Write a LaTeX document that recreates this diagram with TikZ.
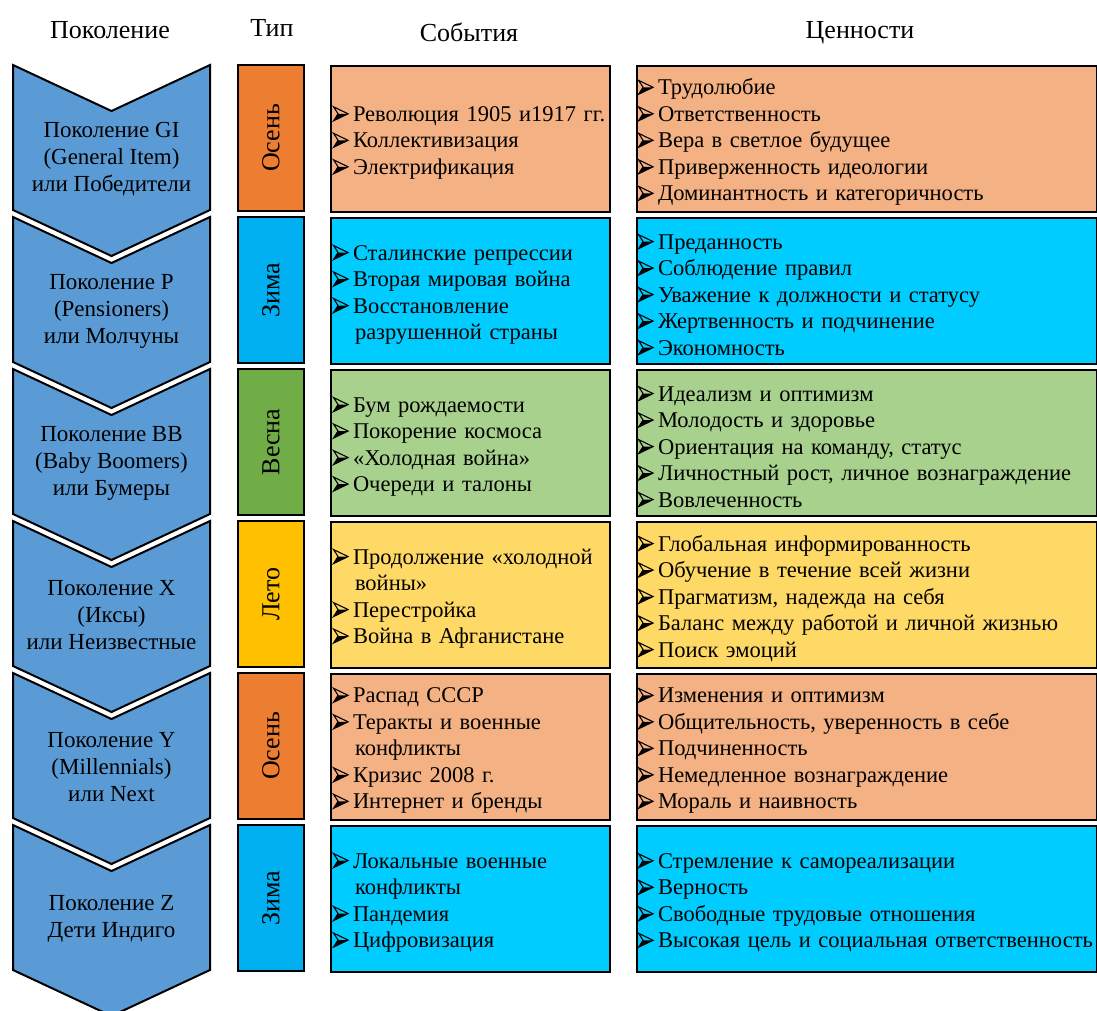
\documentclass[tikz,border=0pt]{standalone}
\usepackage{fontspec}
\setmainfont{Liberation Serif}
\definecolor{chevblue}{RGB}{91,155,213}
\definecolor{autumnT}{RGB}{237,125,49}
\definecolor{autumnL}{RGB}{244,177,131}
\definecolor{winterT}{RGB}{0,176,240}
\definecolor{winterL}{RGB}{0,204,255}
\definecolor{springT}{RGB}{112,173,71}
\definecolor{springL}{RGB}{169,209,142}
\definecolor{summerT}{RGB}{255,192,0}
\definecolor{summerL}{RGB}{255,217,102}
\newsavebox\bulbox
\newcommand\bul{\makebox[20pt][l]{\usebox\bulbox}}
\newcommand\ind{\hspace*{22pt}}
\newcommand\topstrut{\rule{0pt}{22.5pt}}
\tikzset{
  txt/.style={font=\fontsize{22.5}{26.5}\selectfont},
  chev/.style={fill=chevblue, draw=black, line width=2pt, line join=miter},
  chevtext/.style={font=\fontsize{23}{27}\selectfont, align=center, inner sep=0pt},
  typebox/.style={draw=black, line width=2pt, font=\fontsize{26}{30}\selectfont, minimum width=146pt, minimum height=66pt, rotate=90, inner sep=0pt},
  evbox/.style={draw=black, line width=2pt, txt, anchor=north west, minimum height=146pt, text width=275pt, inner xsep=2pt, inner ysep=0pt, align=left},
  valbox/.style={draw=black, line width=2pt, txt, anchor=north west, minimum height=146pt, text width=458pt, inner xsep=1pt, inner ysep=0pt, align=left},
  head/.style={font=\fontsize{26}{30}\selectfont, inner sep=0pt}
}
% #1 index, #2 ytop, #3 chevron text, #4 type, #5 type colour, #6 light colour, #7 events, #8 values
\newcommand\genrow[8]{%
  \begin{scope}[shift={(0,#2)}]
    \draw[chev] (13,0) -- (111.5,46) -- (210,0) -- (210,145) -- (111.5,191) -- (13,145) -- cycle;
    \node[chevtext] (gen#1) at (111.5,94) {#3};
    \node[typebox, fill=#5] (type#1) at (271,73) {#4};
    \node[evbox, fill=#6] (ev#1) at (330,0) {\topstrut#7};
    \node[valbox, fill=#6] (val#1) at (636,0) {\topstrut#8};
  \end{scope}}
\begin{document}
\sbox\bulbox{\begin{pgfpicture}%
  \pgfsetmiterjoin
  \pgfpathmoveto{\pgfpoint{0.5pt}{0.5pt}}\pgfpathlineto{\pgfpoint{15pt}{7.5pt}}\pgfpathlineto{\pgfpoint{5pt}{7.5pt}}\pgfpathclose\pgfusepath{fill}%
  \pgfsetlinewidth{1.1pt}%
  \pgfpathmoveto{\pgfpoint{0.5pt}{14.5pt}}\pgfpathlineto{\pgfpoint{15pt}{7.5pt}}\pgfpathlineto{\pgfpoint{0.5pt}{0.5pt}}\pgfpathlineto{\pgfpoint{5pt}{7.5pt}}\pgfpathclose\pgfusepath{stroke}%
\end{pgfpicture}}
\begin{tikzpicture}[x=1pt,y=-1pt]
\useasboundingbox (0,0) rectangle (1097,1010);
\begin{scope}
\clip (0,0) rectangle (1097,1010);
\node[head] (h1) at (110,30) {Поколение};
\node[head] (h2) at (272,28) {Тип};
\node[head] (h3) at (469,32) {События};
\node[head] (h4) at (860,33) {Ценности};

\genrow{1}{65}{Поколение GI\\(General Item)\\или Победители}{Осень}{autumnT}{autumnL}
  {\bul Революция 1905 и1917 гг.\\\bul Коллективизация\\\bul Электрификация}
  {\bul Трудолюбие\\\bul Ответственность\\\bul Вера в светлое будущее\\\bul Приверженность идеологии\\\bul Доминантность и категоричность}
\genrow{2}{217}{Поколение Р\\(Pensioners)\\или Молчуны}{Зима}{winterT}{winterL}
  {\bul Сталинские репрессии\\\bul Вторая мировая война\\\bul Восстановление\\\ind разрушенной страны}
  {\bul Преданность\\\bul Соблюдение правил\\\bul Уважение к должности и статусу\\\bul Жертвенность и подчинение\\\bul Экономность}
\genrow{3}{369}{Поколение ВВ\\(Baby Boomers)\\или Бумеры}{Весна}{springT}{springL}
  {\bul Бум рождаемости\\\bul Покорение космоса\\\bul «Холодная война»\\\bul Очереди и талоны}
  {\bul Идеализм и оптимизм\\\bul Молодость и здоровье\\\bul Ориентация на команду, статус\\\bul Личностный рост, личное вознаграждение\\\bul Вовлеченность}
\genrow{4}{521}{Поколение Х\\(Иксы)\\или Неизвестные}{Лето}{summerT}{summerL}
  {\bul Продолжение «холодной\\\ind войны»\\\bul Перестройка\\\bul Война в Афганистане}
  {\bul Глобальная информированность\\\bul Обучение в течение всей жизни\\\bul Прагматизм, надежда на себя\\\bul Баланс между работой и личной жизнью\\\bul Поиск эмоций}
\genrow{5}{673}{Поколение Y\\(Millennials)\\или Next}{Осень}{autumnT}{autumnL}
  {\bul Распад СССР\\\bul Теракты и военные\\\ind конфликты\\\bul Кризис 2008 г.\\\bul Интернет и бренды}
  {\bul Изменения и оптимизм\\\bul Общительность, уверенность в себе\\\bul Подчиненность\\\bul Немедленное вознаграждение\\\bul Мораль и наивность}
\genrow{6}{825}{Поколение Z\\Дети Индиго}{Зима}{winterT}{winterL}
  {\bul Локальные военные\\\ind конфликты\\\bul Пандемия\\\bul Цифровизация}
  {\bul Стремление к самореализации\\\bul Верность\\\bul Свободные трудовые отношения\\\bul Высокая цель и социальная ответственность}
\end{scope}
\end{tikzpicture}
\end{document}
